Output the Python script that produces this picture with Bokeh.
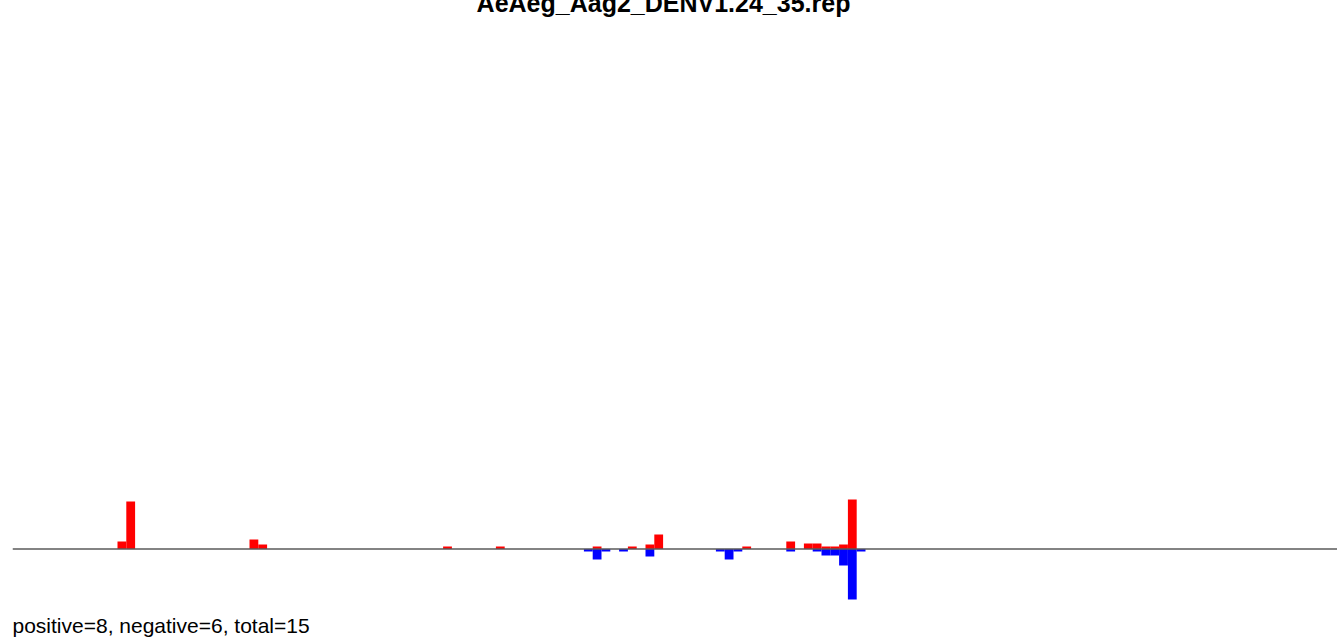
from bokeh.plotting import figure
from bokeh.models import Range1d, Span, Label
from bokeh.embed import file_html
from bokeh.resources import INLINE

title_text = "AeAeg_Aag2_DENV1.24_35.rep"
summary_text = "positive=8, negative=6, total=15"

# bin index of each bar (left edge), and bar heights
pos_bins = [12, 13, 27, 28, 49, 55, 66, 70, 72, 73, 83, 88, 90, 91, 92, 93, 94, 95]
pos_vals = [7.5, 47.5, 9.5, 4.5, 2.5, 2.5, 2.5, 2.5, 4.5, 14.5, 2.5, 7.5, 5.5, 5.5, 2.5, 2.5, 4.5, 49.5]

neg_bins = [65, 66, 67, 69, 72, 80, 81, 82, 88, 91, 92, 93, 94, 95, 96]
neg_vals = [2.5, 10.5, 2.5, 2.5, 7.5, 2.5, 10.5, 2.5, 2.5, 2.5, 6.5, 6.5, 16.5, 50.5, 2.5]

W, H = 1329, 647
BIN_PX = 8.8
X0_PX = 11.4  # page x of bin 0
FRAME_LEFT = 12
BASE_Y = 548.5  # page y of zero line
TOP_Y = -8      # page y of canvas top
BOT_Y = 639

x_start = (FRAME_LEFT - X0_PX) / BIN_PX
x_end = (8 + W - X0_PX) / BIN_PX
y_end = BASE_Y - TOP_Y
y_start = BASE_Y - BOT_Y

p = figure(width=W, height=H, output_backend="svg", toolbar_location=None,
           x_range=Range1d(x_start, x_end), y_range=Range1d(y_start, y_end),
           x_axis_location=None, y_axis_location=None,
           min_border_left=4, min_border_right=0, min_border_top=0, min_border_bottom=0)
p.margin = (-8, 0, 0, 8)
p.grid.visible = False
p.outline_line_color = None
p.background_fill_color = "white"
p.border_fill_color = "white"

p.add_layout(Span(location=0, dimension="width", line_color="#5a5a5a", line_width=1.3))

p.vbar(x=[b + 0.5 for b in pos_bins], width=1, bottom=0, top=pos_vals,
       fill_color="#ff0000", line_color=None)
p.vbar(x=[b + 0.5 for b in neg_bins], width=1, top=0, bottom=[-v for v in neg_vals],
       fill_color="#0000ff", line_color=None)

def px_to_x(px):
    return (px - X0_PX) / BIN_PX

def py_to_y(py):
    return BASE_Y - py

p.add_layout(Label(x=px_to_x(663), y=py_to_y(2), text=title_text,
                   text_font="Liberation Sans", text_font_style="bold",
                   text_font_size="25px", text_align="center",
                   text_baseline="alphabetic", text_color="black"))
p.add_layout(Label(x=px_to_x(12), y=py_to_y(625), text=summary_text,
                   text_font="Liberation Sans", text_font_size="21px",
                   text_align="left", text_baseline="alphabetic", text_color="black"))

open("out.html", "w").write(file_html(p, INLINE))
